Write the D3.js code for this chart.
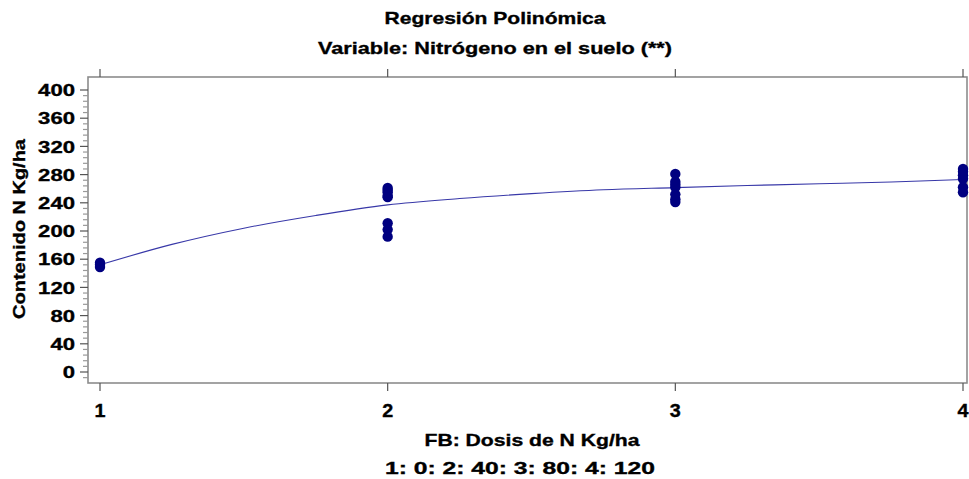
<!DOCTYPE html>
<html>
<head>
<meta charset="utf-8">
<script src="https://cdn.jsdelivr.net/npm/d3@7/dist/d3.min.js"></script>
<style>
  html, body { margin: 0; padding: 0; background: #fff; }
  svg { display: block; font-family: Arial, "Liberation Sans", sans-serif; }
</style>
</head>
<body>
<svg id="chart" width="969" height="479"></svg>
<script>
// Dose levels (FB) and observed soil nitrogen per level
const doseLevels = [1, 2, 3, 4];
const obsLevel1 = [155, 152, 149];
const obsLevel2 = [261, 258, 255, 250, 248, 211, 202, 192];
const obsLevel3 = [281, 270, 266, 262, 252, 245, 241];
const obsLevel4 = [288, 284, 279, 274, 262, 255];

// Fitted polynomial curve, sampled along the dose axis
const fitX = [1, 1.25, 1.5, 1.75, 2, 2.25, 2.5, 2.75, 3, 3.25, 3.5, 3.75, 4];
const fitY = [152, 181, 204, 222, 237, 246, 253, 258.5, 261.5, 264.5, 267, 269.5, 273];

const yTicks = [0, 40, 80, 120, 160, 200, 240, 280, 320, 360, 400];
const xTickLabels = ["1", "2", "3", "4"];

const title1 = "Regresión Polinómica";
const title2 = "Variable: Nitrógeno en el suelo (**)";
const xTitle = "FB: Dosis de N Kg/ha";
const xNote = "1: 0: 2: 40: 3: 80: 4: 120";
const yTitle = "Contenido N Kg/ha";

const svg = d3.select("#chart");

const frame = { left: 88, right: 967, top: 77, bottom: 383 };
const x = d3.scaleLinear().domain([1, 4]).range([100, 963]);
const y = d3.scaleLinear().domain([0, 400]).range([372, 90]);

const axisColor = "#8c8c8c";

// Wide bold label helper: stretches glyphs to a set width
function label(sel, txt, size, width) {
  const t = sel.append("text")
    .attr("font-size", size)
    .attr("font-weight", "bold")
    .attr("fill", "#000")
    .attr("stroke", "#000")
    .attr("stroke-width", 0.35)
    .text(txt);
  if (width) t.attr("textLength", width).attr("lengthAdjust", "spacingAndGlyphs");
  return t;
}

// Frame: left, bottom, top and right edges
svg.append("rect")
  .attr("x", frame.left).attr("y", frame.top)
  .attr("width", frame.right - frame.left)
  .attr("height", frame.bottom - frame.top)
  .attr("fill", "none")
  .attr("stroke", axisColor)
  .attr("stroke-width", 1.6);

// Y axis: major ticks with labels, minor ticks between
const minorTicks = d3.range(-8, 401, 8);
svg.append("g")
  .selectAll("line")
  .data(minorTicks)
  .join("line")
  .attr("x1", d => (d % 40 === 0 ? frame.left - 8 : frame.left - 5))
  .attr("x2", frame.left)
  .attr("y1", d => y(d)).attr("y2", d => y(d))
  .attr("stroke", d => (d % 40 === 0 ? "#555" : "#999"))
  .attr("stroke-width", 1.2);

const yLab = svg.append("g");
yTicks.forEach(d => {
  const s = String(d);
  label(yLab, s, 17, s.length * 12.3)
    .attr("x", frame.left - 13)
    .attr("y", y(d))
    .attr("dy", "0.36em")
    .attr("text-anchor", "end");
});

// X axis ticks below the frame and above it
svg.append("g")
  .selectAll("line")
  .data(doseLevels)
  .join("line")
  .attr("x1", d => x(d)).attr("x2", d => x(d))
  .attr("y1", frame.bottom).attr("y2", frame.bottom + 8)
  .attr("stroke", "#555").attr("stroke-width", 1.2);

svg.append("g")
  .selectAll("line")
  .data(doseLevels)
  .join("line")
  .attr("x1", d => x(d)).attr("x2", d => x(d))
  .attr("y1", frame.top - 8).attr("y2", frame.top)
  .attr("stroke", "#555").attr("stroke-width", 1.2);

const xLab = svg.append("g");
doseLevels.forEach((d, i) => {
  label(xLab, xTickLabels[i], 18, 11)
    .attr("x", x(d))
    .attr("y", 417)
    .attr("text-anchor", "middle");
});

// Fitted curve
const curvePts = fitX.map((v, i) => [v, fitY[i]]);
svg.append("path")
  .datum(curvePts)
  .attr("fill", "none")
  .attr("stroke", "#3838a8")
  .attr("stroke-width", 1.1)
  .attr("d", d3.line().x(d => x(d[0])).y(d => y(d[1])).curve(d3.curveCatmullRom));

// Observations
const obs = [obsLevel1, obsLevel2, obsLevel3, obsLevel4]
  .flatMap((vals, i) => vals.map(v => ({ level: doseLevels[i], value: v })));
svg.append("g")
  .selectAll("circle")
  .data(obs)
  .join("circle")
  .attr("cx", d => x(d.level))
  .attr("cy", d => y(d.value))
  .attr("r", 5.2)
  .attr("fill", "#000080");

// Titles
label(svg, title1, 17, 221).attr("x", 495).attr("y", 24).attr("text-anchor", "middle");
label(svg, title2, 17, 354).attr("x", 495).attr("y", 54).attr("text-anchor", "middle");
label(svg, xTitle, 17, 215).attr("x", 532).attr("y", 446).attr("text-anchor", "middle");
label(svg, xNote, 17, 270).attr("x", 520).attr("y", 474).attr("text-anchor", "middle");
label(svg, yTitle, 17, 180)
  .attr("transform", "translate(25,229) rotate(-90)")
  .attr("text-anchor", "middle");
</script>
</body>
</html>
